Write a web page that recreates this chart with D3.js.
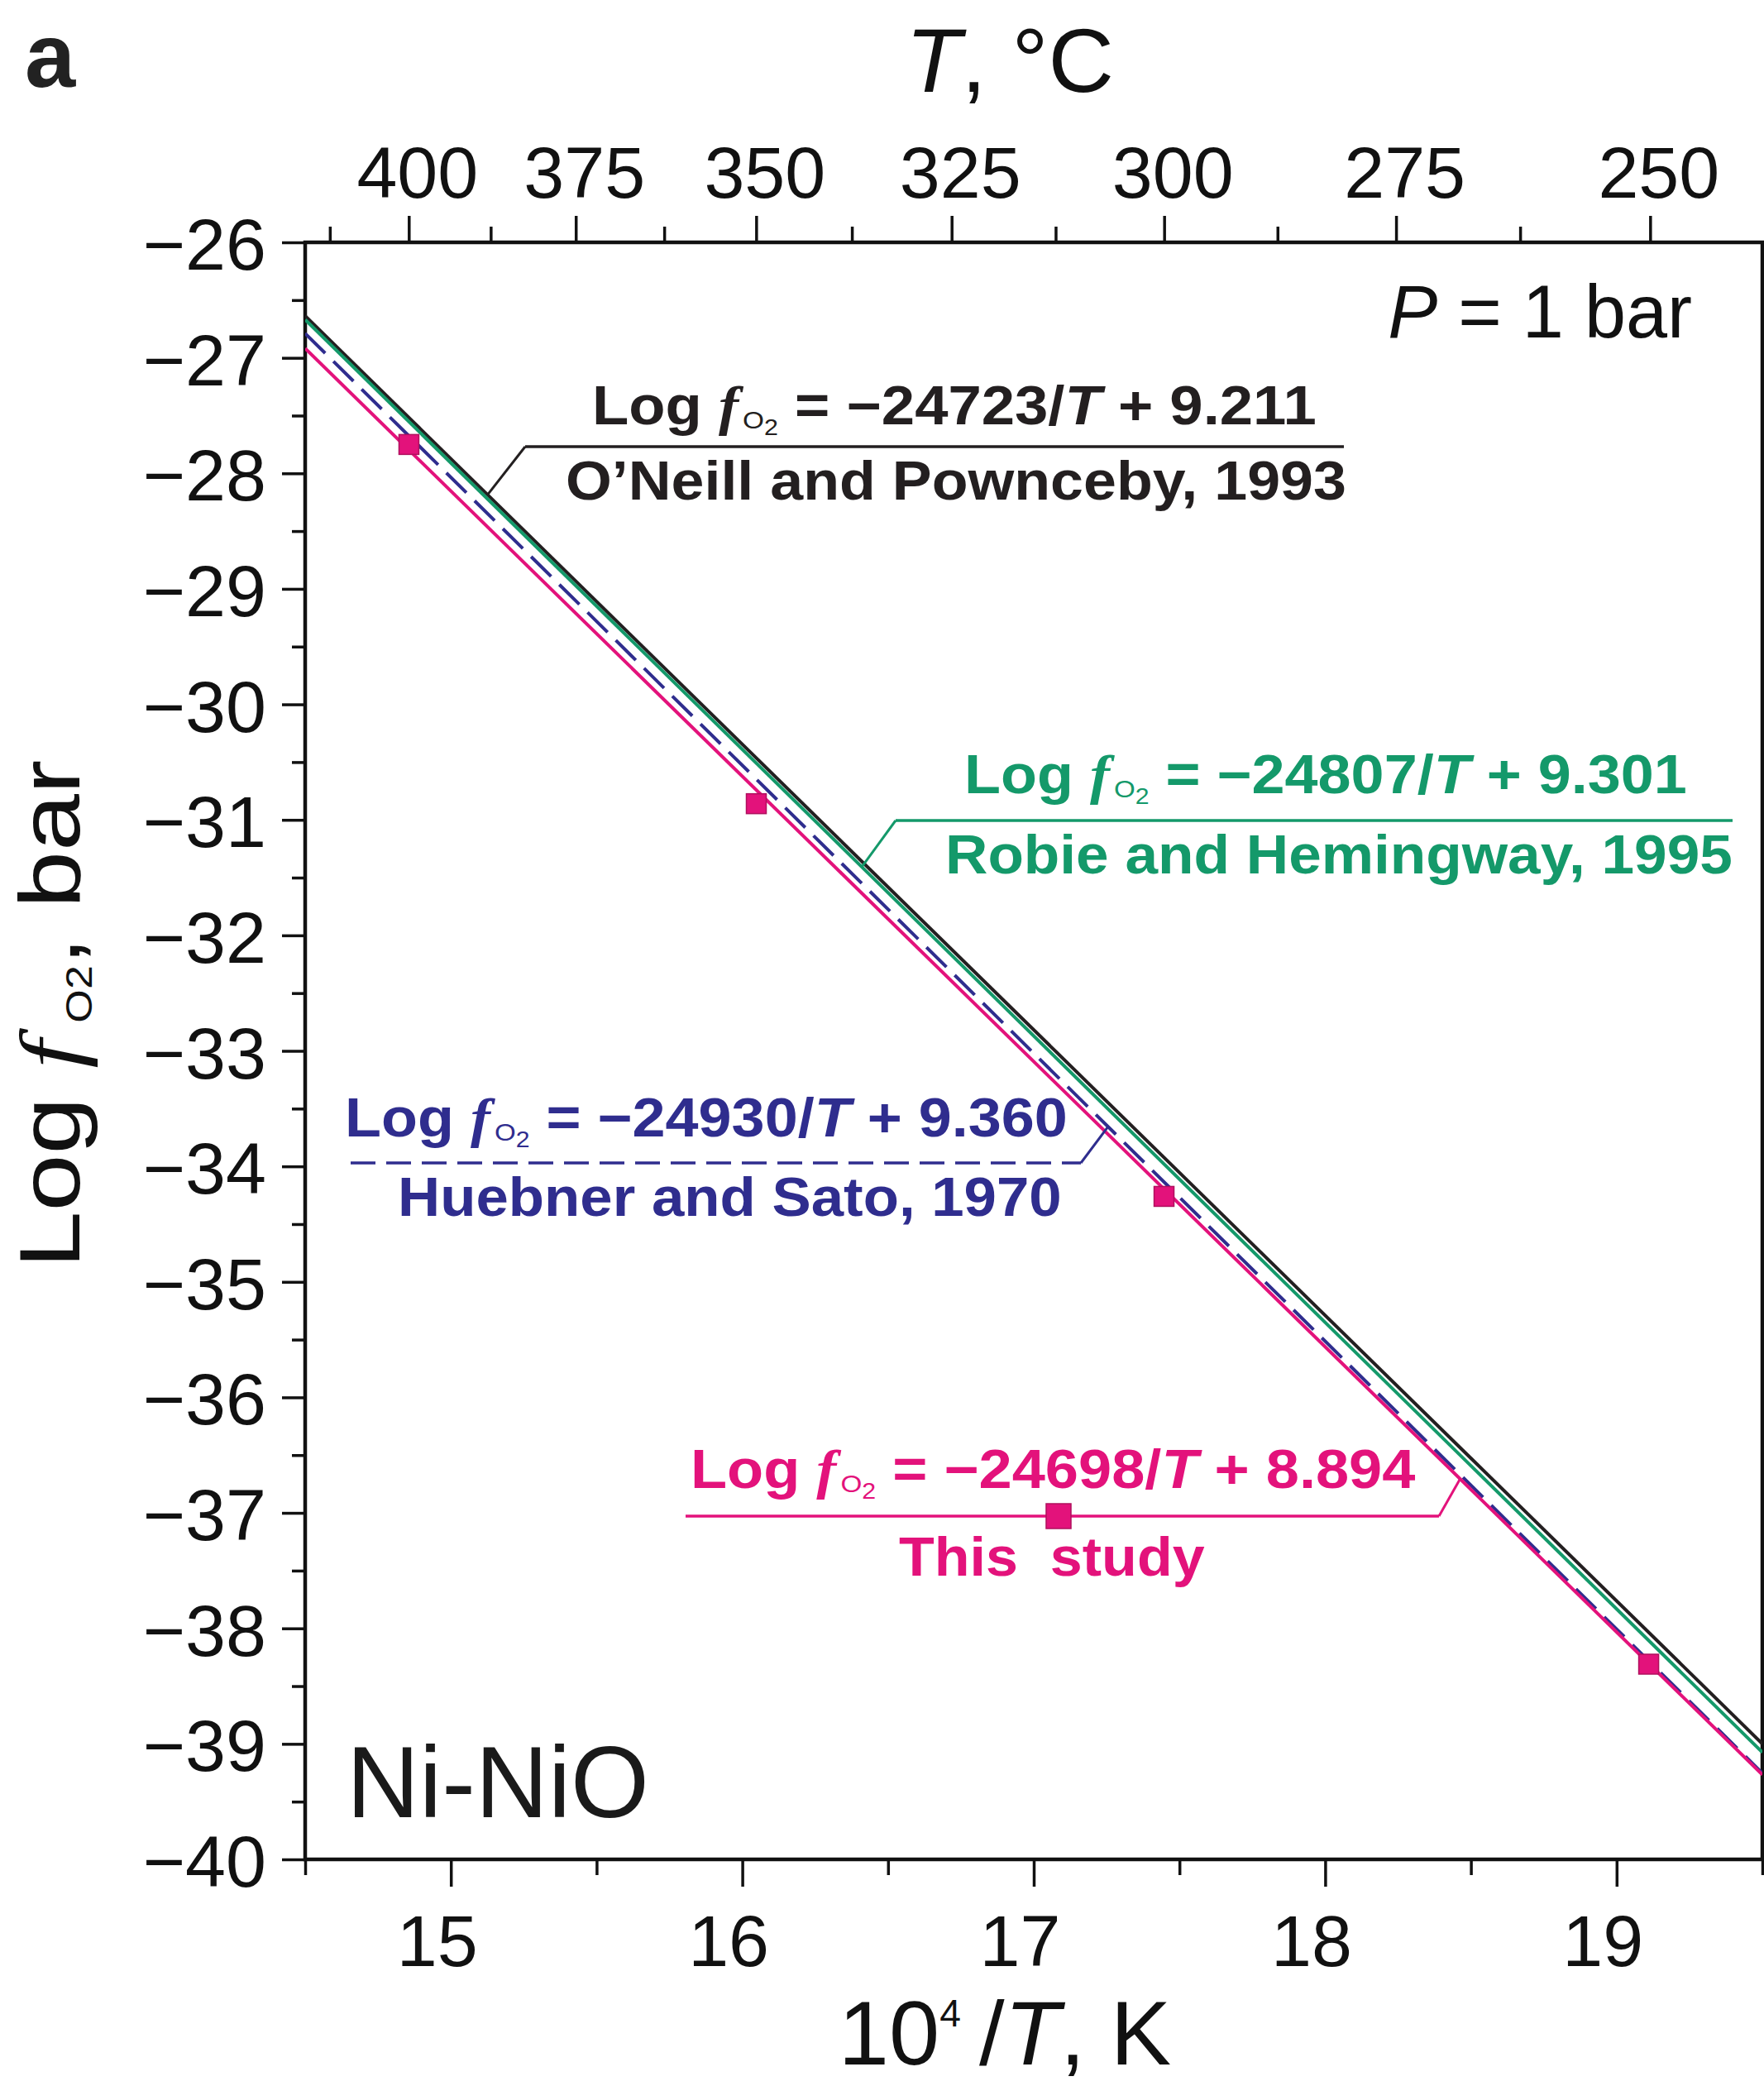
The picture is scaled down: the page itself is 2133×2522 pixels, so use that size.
<!DOCTYPE html>
<html><head><meta charset="utf-8">
<script src="https://cdn.jsdelivr.net/npm/d3@7"></script>
<style>html,body{margin:0;padding:0;background:#fff;} svg{display:block;} text{white-space:pre;}</style>
</head><body><svg id="c" width="2133" height="2522"></svg>
<script>
// ---------- data ----------
const xDomain = [14.5, 19.5];           // 10^4/T, K
const yDomain = [-40, -26];             // log fO2, bar
const xMajorTicks = [15, 16, 17, 18, 19];
const xMinorTicks = [14.5, 15.5, 16.5, 17.5, 18.5, 19.5];
const yMajorTicks = [-40, -39, -38, -37, -36, -35, -34, -33, -32, -31, -30, -29, -28, -27, -26];
const yMinorTicks = [-39.5, -38.5, -37.5, -36.5, -35.5, -34.5, -33.5, -32.5, -31.5, -30.5, -29.5, -28.5, -27.5, -26.5];
const topTempMajor = [400, 375, 350, 325, 300, 275, 250];            // T, °C
const topTempMinor = [412.5, 387.5, 362.5, 337.5, 312.5, 287.5, 262.5];

const seriesNames = ["O\u2019Neill and Pownceby, 1993", "Robie and Hemingway, 1995", "Huebner and Sato, 1970", "This study"];
const seriesSlopes = [-24723, -24807, -24930, -24698];
const seriesIntercepts = [9.211, 9.301, 9.360, 8.894];
const slopeLabels = ["\u221224723", "\u221224807", "\u221224930", "\u221224698"];
const interceptLabels = ["9.211", "9.301", "9.360", "8.894"];
const seriesColors = ["#231f20", "#14996a", "#2f2d8e", "#e3127b"];
const seriesDash = [null, null, "34,14", null];

const pointX = [14.856, 16.048, 17.447, 19.11];
const pointY = [-27.75, -30.86, -34.26, -38.31];

// ---------- layout ----------
const L = 369, R = 2131, T = 293, B = 2248;
const FONT = "'Liberation Sans', Arial, Helvetica, sans-serif";
const SERIF = "'Liberation Serif', 'Times New Roman', serif";
const svg = d3.select("#c");
svg.append("rect").attr("width", 2133).attr("height", 2522).attr("fill", "#fff");

const x = d3.scaleLinear().domain(xDomain).range([L, R]);
const y = d3.scaleLinear().domain(yDomain).range([B, T]);
const lineVal = (i, xv) => seriesSlopes[i] / 1e4 * xv + seriesIntercepts[i];
const toInvT = tc => 1e4 / (tc + 273.15);

// ---------- axes ----------
function styleAxis(g) {
  g.select(".domain").remove();
  g.selectAll(".tick line").attr("stroke", "#111").attr("stroke-width", 3.5);
  g.selectAll(".tick text").attr("fill", "#111").attr("font-family", FONT).attr("font-size", 88);
}
// bottom
svg.append("g").attr("transform", `translate(0,${B})`)
  .call(d3.axisBottom(x).tickValues(xMinorTicks).tickSize(19).tickSizeOuter(0).tickFormat(""))
  .call(styleAxis);
const xAx = svg.append("g").attr("transform", `translate(0,${B})`)
  .call(d3.axisBottom(x).tickValues(xMajorTicks).tickSize(33).tickSizeOuter(0).tickPadding(34).tickFormat(d3.format("d")))
  .call(styleAxis);
xAx.selectAll(".tick text").attr("dx", -17);
// left
svg.append("g").attr("transform", `translate(${L},0)`)
  .call(d3.axisLeft(y).tickValues(yMinorTicks).tickSize(16).tickSizeOuter(0).tickFormat(""))
  .call(styleAxis);
const yAx = svg.append("g").attr("transform", `translate(${L},0)`)
  .call(d3.axisLeft(y).tickValues(yMajorTicks).tickSize(28).tickSizeOuter(0).tickPadding(19)
    .tickFormat(d => (d < 0 ? "\u2212" : "") + Math.abs(d)))
  .call(styleAxis);
yAx.selectAll(".tick text").attr("dy", "0.37em");
// top (temperature)
svg.append("g").attr("transform", `translate(0,${T})`)
  .call(d3.axisTop(x).tickValues(topTempMinor.map(toInvT)).tickSize(19).tickSizeOuter(0).tickFormat(""))
  .call(styleAxis);
const tAx = svg.append("g").attr("transform", `translate(0,${T})`)
  .call(d3.axisTop(x).tickValues(topTempMajor.map(toInvT)).tickSize(32).tickSizeOuter(0).tickPadding(22)
    .tickFormat((d, i) => String(topTempMajor[i])))
  .call(styleAxis);
tAx.selectAll(".tick text").attr("dx", 10);

// frame
svg.append("rect").attr("x", L).attr("y", T).attr("width", R - L).attr("height", B - T)
  .attr("fill", "none").attr("stroke", "#111").attr("stroke-width", 4.5);

// ---------- lines ----------
svg.append("clipPath").attr("id", "clip").append("rect")
  .attr("x", L).attr("y", T).attr("width", R - L).attr("height", B - T);
const plot = svg.append("g").attr("clip-path", "url(#clip)");
const lineGen = d3.line().x(d => x(d[0])).y(d => y(d[1]));
seriesNames.forEach((n, i) => {
  const pts = xDomain.map(xv => [xv, lineVal(i, xv)]);
  plot.append("path").attr("d", lineGen(pts)).attr("fill", "none")
    .attr("stroke", seriesColors[i]).attr("stroke-width", 4)
    .attr("stroke-dasharray", seriesDash[i]);
});
// data points
const SQ = 24;
plot.selectAll("rect.pt").data(pointX.map((v, i) => [v, pointY[i]])).enter().append("rect")
  .attr("class", "pt")
  .attr("x", d => x(d[0]) - SQ / 2).attr("y", d => y(d[1]) - SQ / 2)
  .attr("width", SQ).attr("height", SQ)
  .attr("fill", seriesColors[3]).attr("stroke", "#b0105e").attr("stroke-width", 1.5);

// ---------- rich text helper ----------
function rich(parent, xPos, yPos, parts, size, color, opts = {}) {
  const t = parent.append("text").attr("x", 0).attr("y", 0)
    .attr("font-size", size).attr("fill", color).attr("font-family", FONT);
  let shift = 0;
  parts.forEach(p => {
    const ts = t.append("tspan").text(p.t);
    if (p.w) ts.attr("font-weight", p.w);
    if (p.i) ts.attr("font-style", "italic");
    if (p.f) ts.attr("font-family", p.f);
    if (p.s) ts.attr("font-size", p.s * size);
    const target = p.dy || 0;
    const d = (target - shift) * size;
    if (Math.abs(d) > 0.001) ts.attr("dy", d);
    shift = target;
  });
  const bb = t.node().getBBox();
  let sx = 1;
  if (opts.width) sx = opts.width / bb.width;
  let tx;
  if (opts.anchor === "end") tx = xPos - (bb.x + bb.width) * sx;
  else if (opts.anchor === "middle") tx = xPos - (bb.x + bb.width / 2) * sx;
  else tx = xPos - bb.x * sx;
  let tr = `translate(${tx},${yPos}) scale(${sx},1)`;
  if (opts.rotate) {
    tr = `translate(${xPos},${yPos}) rotate(-90) scale(${sx},1) translate(${-(bb.x + bb.width / 2)},0)`;
  }
  t.attr("transform", tr);
  return t;
}

// ---------- axis titles ----------
rich(svg, 1221, 111, [{ t: "T", i: 1 }, { t: ", \u00b0C" }], 110, "#111", { anchor: "middle" });
rich(svg, 1215, 2496, [{ t: "10" }, { t: "4", s: 0.42, dy: -0.42 }, { t: "\u2009/", dy: 0 }, { t: "T", i: 1 }, { t: ", K" }], 110, "#111", { anchor: "middle" });
rich(svg, 96, 1226, [{ t: "Log " }, { t: "f", i: 1, f: SERIF }, { t: "  ", s: 0.3 }, { t: "O", s: 0.42, dy: 0.14 }, { t: "2", s: 0.42, dy: 0.14 }, { t: ", bar", dy: 0 }], 104, "#111", { rotate: true, width: 615 });

// panel letter and notes
svg.append("text").attr("x", 30).attr("y", 105).attr("font-family", FONT).attr("font-weight", "bold")
  .attr("font-size", 110).attr("fill", "#222").text("a");
rich(svg, 2046, 408, [{ t: "P", i: 1 }, { t: " = 1 bar" }], 90, "#111", { anchor: "end" });
svg.append("text").attr("x", 419).attr("y", 2197).attr("font-family", FONT)
  .attr("font-size", 122).attr("fill", "#1a1a1a").text("Ni-NiO");

// ---------- equation annotations ----------
const annot = [
  { eqX: 716, eqW: 876, eqY: 513, srcX: 684, srcW: 944, srcY: 604, hY: 540, h0: 1625, h1: 635, onX: 15.126 },
  { eqX: 1166, eqW: 874, eqY: 959, srcX: 1143, srcW: 952, srcY: 1056, hY: 992, h0: 2095, h1: 1083, onX: 16.41 },
  { eqX: 417, eqW: 874, eqY: 1374, srcX: 481, srcW: 803, srcY: 1470, hY: 1406, h0: 417, h1: 1307, onX: 17.255 },
  { eqX: 835, eqW: 877, eqY: 1799, srcX: 1087, srcW: 370, srcY: 1905, hY: 1833, h0: 829, h1: 1740, onX: 18.463 }
];
const ag = svg.append("g");
annot.forEach((a, i) => {
  const c = seriesColors[i];
  const eqParts = [
    { t: "Log ", w: "bold" },
    { t: "f", w: "bold", i: 1, f: SERIF },
    { t: " ", s: 0.25 },
    { t: "O", s: 0.46, dy: 0.08 },
    { t: "2", s: 0.42, dy: 0.2 },
    { t: " = " + slopeLabels[i] + "/", w: "bold", dy: 0 },
    { t: "T", w: "bold", i: 1 },
    { t: " + " + interceptLabels[i], w: "bold" }
  ];
  rich(ag, a.eqX, a.eqY, eqParts, 66, c, { width: a.eqW });
  const srcText = i === 3 ? "This  study" : seriesNames[i];
  rich(ag, a.srcX, a.srcY, [{ t: srcText, w: "bold" }], 66, c, { width: a.srcW });
  // leader: horizontal then diagonal to the line
  ag.append("line").attr("x1", a.h0).attr("x2", a.h1).attr("y1", a.hY).attr("y2", a.hY)
    .attr("stroke", c).attr("stroke-width", 3.5).attr("stroke-dasharray", seriesDash[i] ? "30,13" : null)
    .attr("stroke-dashoffset", seriesDash[i] ? 36 : null);
  ag.append("line").attr("x1", a.h1).attr("y1", a.hY)
    .attr("x2", x(a.onX)).attr("y2", y(lineVal(i, a.onX)))
    .attr("stroke", c).attr("stroke-width", 3);
});
// legend marker for "This study"
const lx = 1280, ly = annot[3].hY, LS = 30;
ag.append("rect").attr("x", lx - LS / 2).attr("y", ly - LS / 2).attr("width", LS).attr("height", LS)
  .attr("fill", seriesColors[3]).attr("stroke", "#b0105e").attr("stroke-width", 1.5);
</script></body></html>
